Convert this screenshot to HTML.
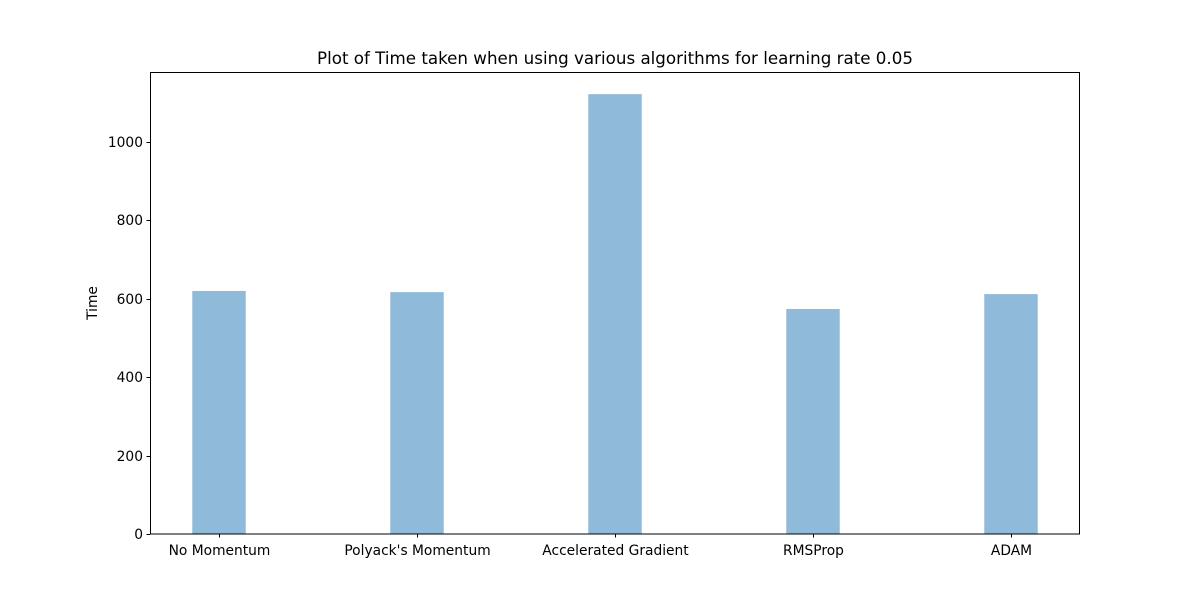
<!DOCTYPE html>
<html>
<head>
<meta charset="utf-8">
<style>
  html, body { margin: 0; padding: 0; background: #fff; }
  svg text { font-family: "DejaVu Sans", "Liberation Sans", sans-serif; fill: #000; }
</style>
</head>
<body>
<svg id="chart" width="1200" height="600" viewBox="0 0 1200 600" xmlns="http://www.w3.org/2000/svg">
  <rect x="0" y="0" width="1200" height="600" fill="#fff"/>
  <text x="615" y="64" font-size="16.7" text-anchor="middle">Plot of Time taken when using various algorithms for learning rate 0.05</text>
  <g id="bars"></g>
  <g id="yticks"></g>
  <g id="xticks"></g>
  <text transform="translate(97,303) rotate(-90)" font-size="13.8" text-anchor="middle">Time</text>
  <rect x="150.5" y="72.5" width="929" height="461.5" fill="none" stroke="#000" stroke-width="1"/>
</svg>
<script>
const categories = ["No Momentum", "Polyack's Momentum", "Accelerated Gradient", "RMSProp", "ADAM"];
const times = [620, 617, 1122, 574, 612];
const yTickValues = [0, 200, 400, 600, 800, 1000];

const NS = "http://www.w3.org/2000/svg";
const L = 150, R = 1080, T = 72, B = 534;
const barW = 0.27;
const xMin = -0.3485, xMax = categories.length - 1 + 0.3485;
const yMin = 0, yMax = 1000 / ((534 - 142) / 462);
function xs(v) { return L + (v - xMin) / (xMax - xMin) * (R - L); }
function ys(v) { return B - (v - yMin) / (yMax - yMin) * (B - T); }

const gb = document.getElementById('bars');
times.forEach((v, i) => {
  const r = document.createElementNS(NS, 'rect');
  const x0 = xs(i - barW / 2), x1 = xs(i + barW / 2);
  r.setAttribute('x', x0);
  r.setAttribute('y', ys(v));
  r.setAttribute('width', x1 - x0);
  r.setAttribute('height', ys(0) - ys(v));
  r.setAttribute('fill', '#8fbad9');
  
  
  gb.appendChild(r);
});

const gy = document.getElementById('yticks');
yTickValues.forEach(v => {
  const y = Math.round(ys(v)) + 0.5;
  const l = document.createElementNS(NS, 'line');
  l.setAttribute('x1', L - 3.5); l.setAttribute('x2', L);
  l.setAttribute('y1', y); l.setAttribute('y2', y);
  l.setAttribute('stroke', '#000');
  
  
  gy.appendChild(l);
  const t = document.createElementNS(NS, 'text');
  t.setAttribute('x', L - 7); t.setAttribute('y', y + 4.5);
  t.setAttribute('font-size', '13.8'); t.setAttribute('text-anchor', 'end');
  t.textContent = v;
  
  
  gy.appendChild(t);
});

const gx = document.getElementById('xticks');
categories.forEach((c, i) => {
  const x = Math.round(xs(i)) + 0.5;
  const l = document.createElementNS(NS, 'line');
  l.setAttribute('x1', x); l.setAttribute('x2', x);
  l.setAttribute('y1', B); l.setAttribute('y2', B + 3.5);
  l.setAttribute('stroke', '#000');
  
  
  gx.appendChild(l);
  const t = document.createElementNS(NS, 'text');
  t.setAttribute('x', x); t.setAttribute('y', B + 21);
  t.setAttribute('font-size', '13.8'); t.setAttribute('text-anchor', 'middle');
  t.textContent = c;
  
  
  gx.appendChild(t);
});
</script>
</body>
</html>
